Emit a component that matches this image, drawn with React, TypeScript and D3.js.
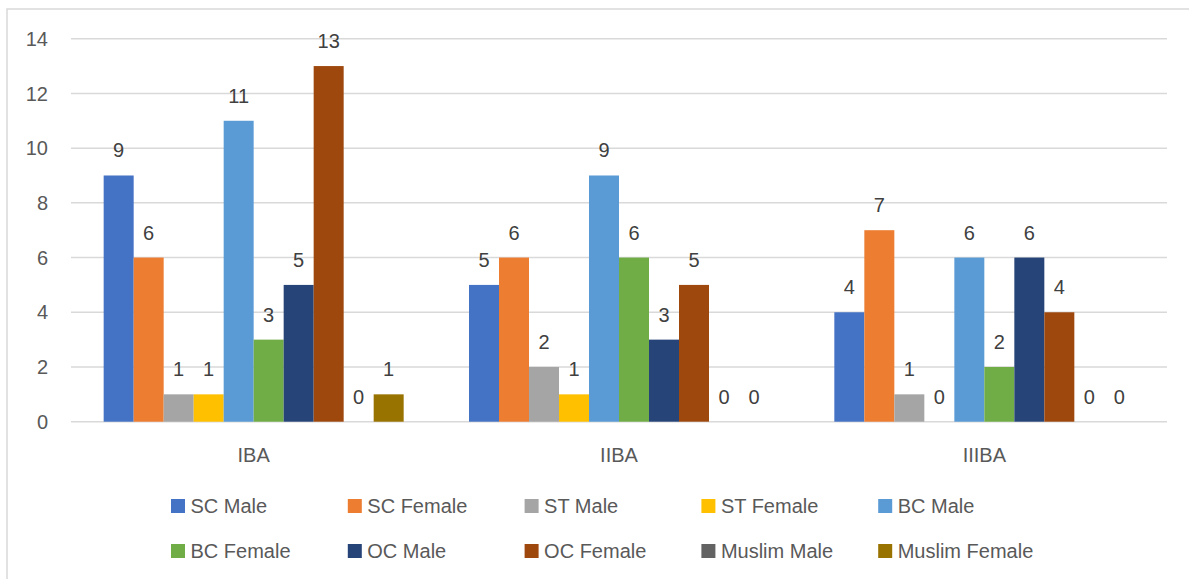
import React from "react";
import * as d3 from "d3";

const categories = ["IBA", "IIBA", "IIIBA"];
const seriesNames = [
  "SC Male", "SC Female", "ST Male", "ST Female", "BC Male",
  "BC Female", "OC Male", "OC Female", "Muslim Male", "Muslim Female",
];
const scMale = [9, 5, 4];
const scFemale = [6, 6, 7];
const stMale = [1, 2, 1];
const stFemale = [1, 1, 0];
const bcMale = [11, 9, 6];
const bcFemale = [3, 6, 2];
const ocMale = [5, 3, 6];
const ocFemale = [13, 5, 4];
const muslimMale = [0, 0, 0];
const muslimFemale = [1, 0, 0];
const yTicks = [0, 2, 4, 6, 8, 10, 12, 14];
const colors = [
  "#4472C4", "#ED7D31", "#A5A5A5", "#FFC000", "#5B9BD5",
  "#70AD47", "#264478", "#9E480E", "#636363", "#997300",
];

const seriesValues = [scMale, scFemale, stMale, stFemale, bcMale, bcFemale, ocMale, ocFemale, muslimMale, muslimFemale];

const W = 1189;
const H = 579;
const FONT = "'Liberation Sans', Arial, sans-serif";

export default function App() {
  const x0 = d3.scaleBand<string>().domain(categories).range([71, 1167]).padding(0);
  const x1 = d3
    .scaleBand<string>()
    .domain(seriesNames)
    .range([0, x0.bandwidth()])
    .paddingInner(0)
    .paddingOuter((x0.bandwidth() / 30 - 10) / 2);
  const y = d3.scaleLinear().domain([0, 14]).range([421.7, 38.7]);

  const legendCols = 5;
  const legendX = (i: number) => 171 + (i % legendCols) * 176.8;
  const legendY = (i: number) => 506 + Math.floor(i / legendCols) * 45;

  return (
    <svg width={W} height={H} style={{ position: "absolute", left: 0, top: 0, display: "block", background: "#fff" }} fontFamily={FONT}>
      <rect x={7} y={9} width={1300} height={700} fill="#fff" stroke="#d9d9d9" strokeWidth={1.5} />
      {yTicks.map((t) => (
        <g key={t}>
          <line x1={71} x2={1167} y1={y(t)} y2={y(t)} stroke="#d9d9d9" strokeWidth={1.5} />
          <text x={48} y={y(t)} dy="0.36em" textAnchor="end" fontSize={20} fill="#595959">{t}</text>
        </g>
      ))}
      {categories.map((c, ci) => (
        <g key={c} transform={`translate(${x0(c)},0)`}>
          {seriesNames.map((s, si) => {
            const v = seriesValues[si][ci];
            const bx = x1(s)!;
            return (
              <g key={s}>
                {v > 0 && (
                  <rect x={bx} y={y(v)} width={x1.bandwidth()} height={y(0) - y(v)} fill={colors[si]} />
                )}
                <text x={bx + x1.bandwidth() / 2} y={y(v) - 18} textAnchor="middle" fontSize={20} fill="#404040">{v}</text>
              </g>
            );
          })}
          <text x={x0.bandwidth() / 2} y={461.5} textAnchor="middle" fontSize={20} fill="#595959">{c}</text>
        </g>
      ))}
      {seriesNames.map((s, i) => (
        <g key={s}>
          <rect x={legendX(i)} y={legendY(i) - 7} width={14} height={14} fill={colors[i]} />
          <text x={legendX(i) + 19.5} y={legendY(i)} dy="0.36em" fontSize={20} fill="#595959">{s}</text>
        </g>
      ))}
    </svg>
  );
}
